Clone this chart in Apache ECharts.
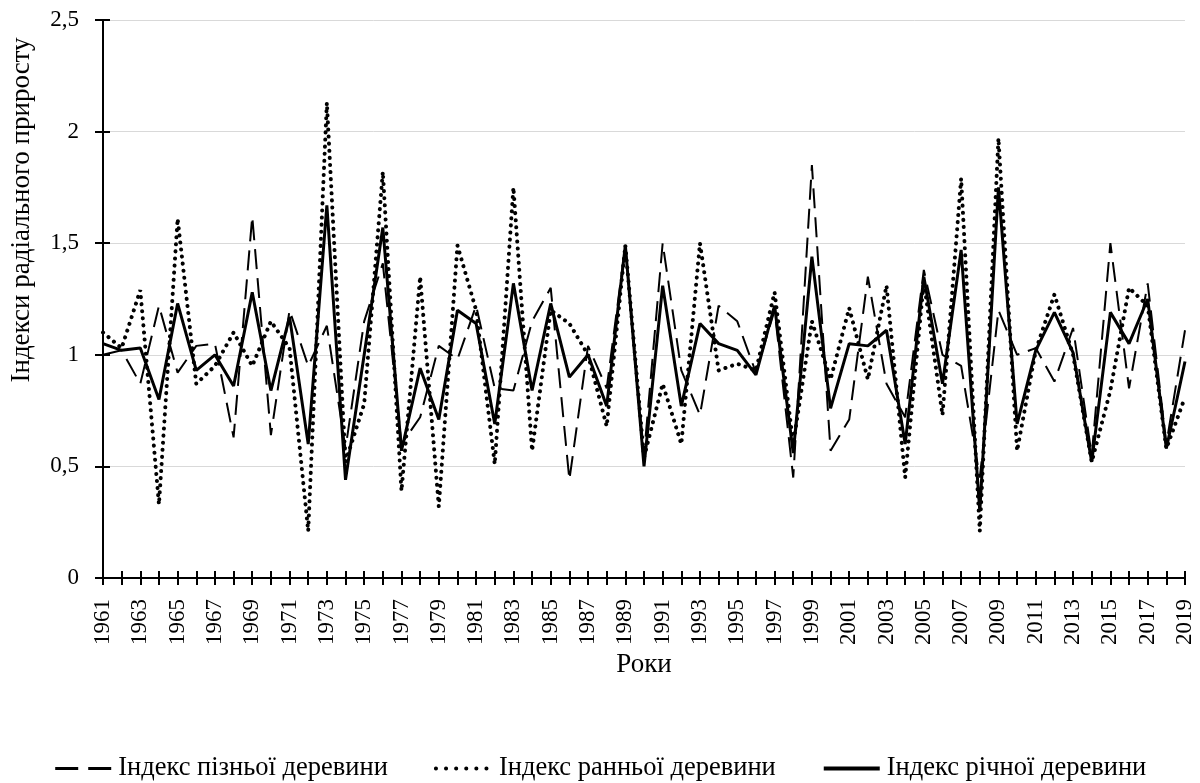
<!DOCTYPE html>
<html>
<head>
<meta charset="utf-8">
<script src="https://cdn.jsdelivr.net/npm/echarts@6/dist/echarts.min.js"></script>
<style>html,body{margin:0;padding:0;background:#fff}#c{width:1200px;height:783px}</style>
</head>
<body>
<div id="c"></div>
<script>
var years = [];
for (var y = 1961; y <= 2019; y++) years.push(String(y));

var lateWood = [1.00,1.02,0.87,1.22,0.92,1.04,1.05,0.63,1.62,0.64,
1.20,0.95,1.13,0.58,1.15,1.41,0.60,0.72,1.04,0.98,
1.22,0.85,0.84,1.15,1.30,0.44,1.04,0.85,1.49,0.55,
1.50,0.93,0.73,1.22,1.15,0.92,1.20,0.45,1.85,0.57,
0.71,1.35,0.87,0.72,1.38,1.00,0.95,0.45,1.20,1.00,
1.03,0.88,1.12,0.55,1.50,0.85,1.32,0.60,1.11];

var earlyWood = [1.10,1.03,1.29,0.33,1.61,0.87,0.95,1.10,0.95,1.15,
1.03,0.21,2.13,0.52,0.78,1.82,0.39,1.35,0.32,1.49,
1.20,0.51,1.75,0.57,1.20,1.14,1.00,0.68,1.49,0.54,
0.87,0.60,1.50,0.93,0.96,0.93,1.28,0.60,1.15,0.89,
1.21,0.89,1.31,0.45,1.33,0.73,1.79,0.21,1.97,0.57,
1.02,1.27,1.00,0.52,0.84,1.30,1.22,0.58,0.81];

var annualWood = [1.05,1.02,1.03,0.80,1.23,0.93,1.00,0.86,1.28,0.84,
1.17,0.60,1.67,0.44,1.00,1.57,0.57,0.94,0.71,1.20,
1.14,0.69,1.32,0.84,1.23,0.90,1.00,0.77,1.49,0.50,
1.31,0.77,1.14,1.05,1.02,0.91,1.22,0.56,1.44,0.76,
1.05,1.04,1.11,0.60,1.35,0.87,1.47,0.30,1.75,0.69,
1.02,1.19,1.01,0.52,1.19,1.05,1.25,0.58,0.97];

var seriesNames = ['Індекс пізньої деревини','Індекс ранньої деревини','Індекс річної деревини'];
var yTicks = {min:0, max:2.5, interval:0.5};

var font = "'Liberation Serif', 'Times New Roman', serif";
var chart = echarts.init(document.getElementById('c'), null, {renderer:'canvas'});
var axisBase = {
  type:'category', data:years, boundaryGap:false, position:'bottom'
};
var dashStyle = {color:'#000', width:2, type:[20,9]};
var dotStyle = {color:'#000', width:4, type:[0.1,7], cap:'round'};
var solidStyle = {color:'#000', width:3};
chart.setOption({
  animation:false,
  backgroundColor:'#fff',
  grid:{left:101, right:15, top:20, bottom:205, containLabel:false},
  legend:{
    top:750, left:'center', itemWidth:56, itemHeight:14, itemGap:46,
    textStyle:{fontFamily:font, fontSize:26.5, color:'#000', padding:[0,0,0,2]},
    itemStyle:{color:'rgba(0,0,0,0)', borderColor:'rgba(0,0,0,0)', borderWidth:0, opacity:0},
    data:[
      {name:seriesNames[0], lineStyle:{color:'#000', width:3, type:[23,10]}},
      {name:seriesNames[1], lineStyle:{color:'#000', width:4, type:[0.1,10], cap:'round'}},
      {name:seriesNames[2], lineStyle:{color:'#000', width:4}}
    ]
  },
  xAxis:[
    Object.assign({}, axisBase, {
      axisLine:{show:true, lineStyle:{color:'#000', width:2}},
      axisTick:{show:true, interval:0, length:7, lineStyle:{color:'#000', width:2}},
      axisLabel:{interval:1, rotate:90, fontFamily:font, fontSize:23, color:'#000', margin:21},
      splitLine:{show:false},
      name:'Роки', nameLocation:'middle', nameGap:73, nameMoveOverlap:false,
      nameTextStyle:{fontFamily:font, fontSize:27, color:'#000'}
    }),
    Object.assign({}, axisBase, {
      axisLine:{show:false},
      axisTick:{show:true, inside:true, interval:0, length:7, lineStyle:{color:'#000', width:2}},
      axisLabel:{show:false},
      splitLine:{show:false}
    })
  ],
  yAxis:[
    {
      type:'value', min:yTicks.min, max:yTicks.max, interval:yTicks.interval, position:'left',
      axisLine:{show:true, lineStyle:{color:'#000', width:2}},
      axisTick:{show:true, length:8, lineStyle:{color:'#000', width:2}},
      axisLabel:{fontFamily:font, fontSize:23, color:'#000', margin:24,
        formatter:function(v){return String(v).replace('.',',');}},
      splitLine:{show:true, lineStyle:{color:'#d9d9d9', width:1}},
      name:'Індекси радіального приросту', nameLocation:'middle', nameGap:68, nameRotate:90,
      nameMoveOverlap:false,
      nameTextStyle:{fontFamily:font, fontSize:27, color:'#000', padding:[0,0,0,178]}
    },
    {
      type:'value', min:yTicks.min, max:yTicks.max, interval:yTicks.interval, position:'left',
      axisLine:{show:false},
      axisTick:{show:true, inside:true, length:7, lineStyle:{color:'#000', width:2}},
      axisLabel:{show:false},
      splitLine:{show:false}
    }
  ],
  series:[
    {name:seriesNames[0], type:'line', data:lateWood, symbol:'none', z:3,
     lineStyle:dashStyle, itemStyle:{color:'#000'}},
    {name:seriesNames[1], type:'line', data:earlyWood, symbol:'none', z:2,
     lineStyle:dotStyle, itemStyle:{color:'#000'}},
    {name:seriesNames[2], type:'line', data:annualWood, symbol:'none', z:4,
     lineStyle:solidStyle, itemStyle:{color:'#000'}}
  ]
});
</script>
</body>
</html>
